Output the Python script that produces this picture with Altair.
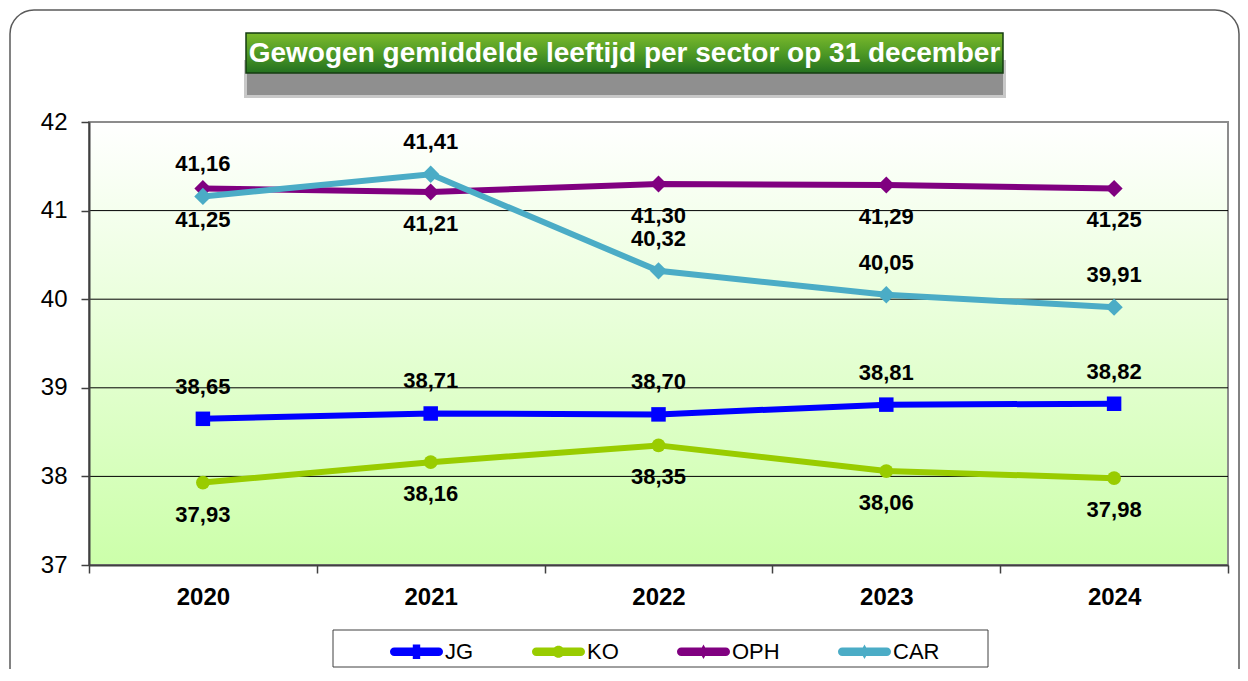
import altair as alt
import pandas as pd

# ---- data ----
YEARS = ["2020", "2021", "2022", "2023", "2024"]
SERIES = ["JG", "KO", "OPH", "CAR"]
JG = [38.65, 38.71, 38.70, 38.81, 38.82]
KO = [37.93, 38.16, 38.35, 38.06, 37.98]
OPH = [41.25, 41.21, 41.30, 41.29, 41.25]
CAR = [41.16, 41.41, 40.32, 40.05, 39.91]
Y_TICKS = [37, 38, 39, 40, 41, 42]
GRID_VALUES = [38, 39, 40, 41]
TITLE = "Gewogen gemiddelde leeftijd per sector op 31 december"

VALUES = {"JG": JG, "KO": KO, "OPH": OPH, "CAR": CAR}
COLORS = {"JG": "#0000ff", "KO": "#99cc00", "OPH": "#800080", "CAR": "#4bacc6"}
SHAPES = {"JG": "square", "KO": "circle", "OPH": "diamond", "CAR": "diamond"}
SIZES = {"JG": 210, "KO": 190, "OPH": 290, "CAR": 300}
LABEL_SIDE = {"JG": "above", "KO": "below", "OPH": "below", "CAR": "above"}

BAR = "M-0.84,-0.16 H0.84 A0.16,0.16 0 0 1 0.84,0.16 H-0.84 A0.16,0.16 0 0 1 -0.84,-0.16 Z "
LEGEND_PATHS = {
    "JG": BAR + "M-0.14,-0.27 H0.14 V0.27 H-0.14 Z",
    "KO": BAR + "M-0.23,0 A0.23,0.23 0 1 1 0.23,0 A0.23,0.23 0 1 1 -0.23,0 Z",
    "OPH": BAR + "M0,-0.27 L0.15,0 L0,0.27 L-0.15,0 Z",
    "CAR": BAR + "M0,-0.27 L0.15,0 L0,0.27 L-0.15,0 Z",
}

rows = []
for s in SERIES:
    for yr, v in zip(YEARS, VALUES[s]):
        rows.append({"series": s, "year": yr, "value": v,
                     "label": f"{v:.2f}".replace(".", ","), "side": LABEL_SIDE[s]})
df = pd.DataFrame(rows)
grid_df = pd.DataFrame({"value": GRID_VALUES})

W, H = 1139, 443
FONT = "Liberation Sans"

x_enc = alt.X("year:O", title=None,
              scale=alt.Scale(type="band", domain=YEARS, paddingInner=0, paddingOuter=0),
              axis=alt.Axis(tickBand="extent", labelAngle=0, labelFontSize=24,
                            labelFontWeight="bold", labelFont=FONT, labelColor="black",
                            labelPadding=12, tickSize=8, tickColor="#404040", tickWidth=1.5,
                            domainColor="#404040", domainWidth=2, grid=False, zindex=1))
y_enc = alt.Y("value:Q", title=None,
              scale=alt.Scale(domain=[37, 42], nice=False, zero=False),
              axis=alt.Axis(values=Y_TICKS, labelFontSize=24, labelFont=FONT,
                            labelColor="black", labelPadding=14, tickSize=8,
                            tickColor="#404040", tickWidth=1.5, domainColor="#404040",
                            domainWidth=2, grid=False, zindex=1))

one = alt.Data(values=[{"a": 1}])

outer = alt.Chart(one).mark_rect(fillOpacity=0, stroke="#5a5a5a", strokeWidth=1.5,
                                 cornerRadius=24).encode(
    x=alt.value(-79), x2=alt.value(1150), y=alt.value(-112), y2=alt.value(600))

shadow1 = alt.Chart(one).mark_rect(fill="#c8c8c8").encode(
    x=alt.value(155), x2=alt.value(917), y=alt.value(-62), y2=alt.value(-24))
shadow2 = alt.Chart(one).mark_rect(fill="#8f8f8f").encode(
    x=alt.value(158), x2=alt.value(914), y=alt.value(-60), y2=alt.value(-27))

title_box = alt.Chart(one).mark_rect(
    fill=alt.LinearGradient(gradient="linear", x1=0, x2=0, y1=0, y2=1,
                            stops=[alt.GradientStop(color="#7cba2c", offset=0),
                                   alt.GradientStop(color="#4f9a25", offset=0.5),
                                   alt.GradientStop(color="#237020", offset=1)]),
    stroke="#143d10", strokeWidth=1.5).encode(
    x=alt.value(157), x2=alt.value(914), y=alt.value(-89), y2=alt.value(-49))

title_text = alt.Chart(one).mark_text(
    text=TITLE, font=FONT, fontSize=28, fontWeight="bold", color="white",
    align="center", baseline="middle").encode(x=alt.value(535.5), y=alt.value(-68))

bg = alt.Chart(one).mark_rect(
    fill=alt.LinearGradient(gradient="linear", x1=0, x2=0, y1=0, y2=1,
                            stops=[alt.GradientStop(color="#ffffff", offset=0),
                                   alt.GradientStop(color="#ccffaa", offset=1)]),
    stroke="#8c8c8c", strokeWidth=2).encode(
    x=alt.value(0), x2=alt.value(W), y=alt.value(0), y2=alt.value(H))

grid = alt.Chart(grid_df).mark_rule(color="black", strokeWidth=1).encode(y=y_enc)

base = alt.Chart(df)
layers = [outer, shadow1, shadow2, title_box, title_text, bg, grid]
for s in SERIES:
    sub = base.transform_filter(alt.datum.series == s)
    layers.append(sub.mark_line(color=COLORS[s], strokeWidth=6).encode(x=x_enc, y=y_enc))
    layers.append(sub.mark_point(shape=SHAPES[s], filled=True, opacity=1, size=SIZES[s],
                                 color=COLORS[s]).encode(x=x_enc, y=y_enc))

label_style = dict(font=FONT, fontSize=22, fontWeight="bold", color="black",
                   align="center", baseline="middle")
layers.append(base.transform_filter(alt.datum.side == "above")
              .mark_text(dy=-32, **label_style).encode(x=x_enc, y=y_enc, text="label:N"))
layers.append(base.transform_filter(alt.datum.side == "below")
              .mark_text(dy=32, **label_style).encode(x=x_enc, y=y_enc, text="label:N"))

legend_box = alt.Chart(one).mark_rect(fill="white", stroke="#404040", strokeWidth=1).encode(
    x=alt.value(244), x2=alt.value(899), y=alt.value(508), y2=alt.value(545))
layers.append(legend_box)

leg = alt.Legend(title=None, orient="none", legendX=301, legendY=503,
                 direction="horizontal", symbolSize=2809, labelFontSize=22,
                 labelFont=FONT, labelColor="black", labelOffset=2, columnPadding=58,
                 padding=0, symbolStrokeWidth=0, labelLimit=300)
legend_layer = base.transform_filter("false").mark_point(filled=True, opacity=1).encode(
    color=alt.Color("series:N", scale=alt.Scale(domain=SERIES, range=[COLORS[s] for s in SERIES]),
                    legend=leg),
    shape=alt.Shape("series:N", scale=alt.Scale(domain=SERIES,
                                                range=[LEGEND_PATHS[s] for s in SERIES]),
                    legend=leg))
layers.append(legend_layer)

chart = alt.layer(*layers).properties(
    width=W, height=H,
    autosize=alt.AutoSizeParams(type="none"),
    padding={"left": 81, "top": 114, "right": 12, "bottom": 104},
).configure_view(stroke=None)

chart.save("out.html", embed_options={"renderer": "svg", "actions": False})
